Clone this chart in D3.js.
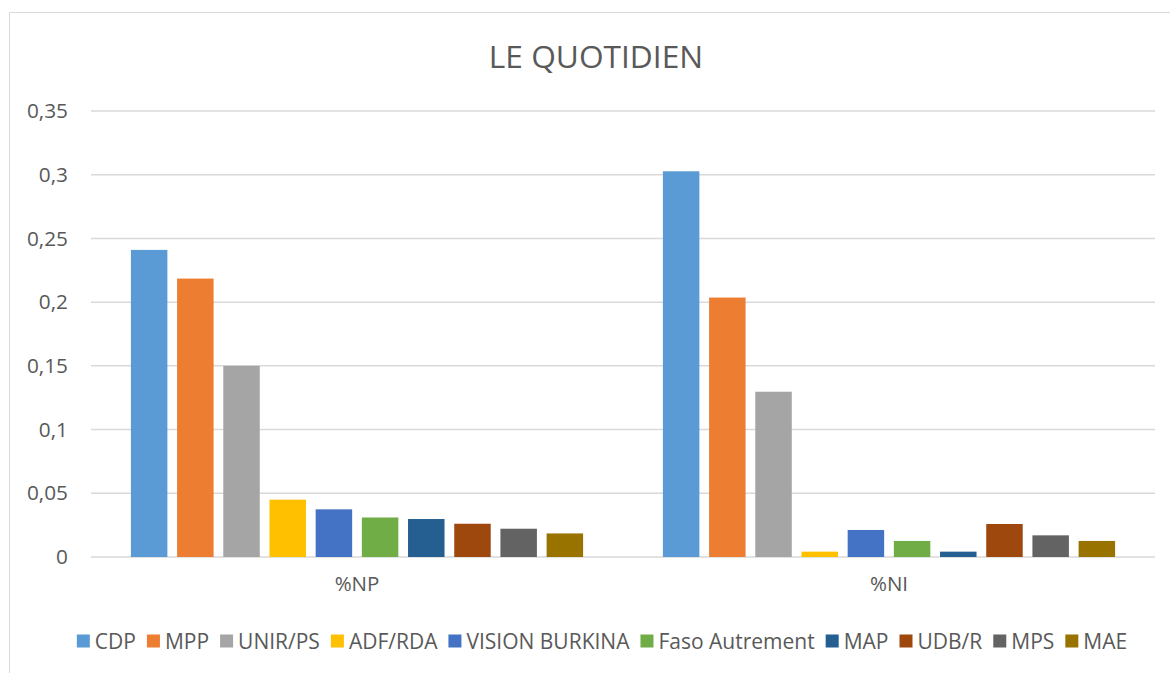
<!DOCTYPE html>
<html>
<head>
<meta charset="utf-8">
<script src="https://cdn.jsdelivr.net/npm/d3@7"></script>
<style>
  html, body { margin: 0; padding: 0; background: #fff; }
  svg { display: block; font-family: "Open Sans", "Noto Sans", sans-serif; }
</style>
</head>
<body>
<svg id="chart"></svg>
<script>
const categories = ['%NP', '%NI'];
const parties = ['CDP', 'MPP', 'UNIR/PS', 'ADF/RDA', 'VISION BURKINA', 'Faso Autrement', 'MAP', 'UDB/R', 'MPS', 'MAE'];
const colors = ['#5B9BD5', '#ED7D31', '#A5A5A5', '#FFC000', '#4472C4', '#70AD47', '#255E91', '#9E480E', '#636363', '#997300'];
const valuesNP = [0.241, 0.2185, 0.150, 0.045, 0.0374, 0.031, 0.0298, 0.0261, 0.0222, 0.0185];
const valuesNI = [0.3027, 0.2036, 0.1297, 0.0042, 0.0212, 0.0126, 0.0042, 0.0259, 0.017, 0.0126];
const yTicks = [0, 0.05, 0.1, 0.15, 0.2, 0.25, 0.3, 0.35];

const width = 1170, height = 673;
const margin = { top: 111, right: 15, bottom: 116, left: 91 };
const innerWidth = width - margin.left - margin.right;
const innerHeight = height - margin.top - margin.bottom;
const ink = '#595959';
const grid = '#d9d9d9';

const svg = d3.select('#chart')
    .attr('width', width)
    .attr('height', height);

// Chart frame (right and bottom edges fall off the picture)
svg.append('path')
    .attr('d', `M${width},12.5 H9.5 V${height}`)
    .attr('fill', 'none')
    .attr('stroke', grid)
    .attr('stroke-width', 1);

svg.append('text')
    .attr('x', 596)
    .attr('y', 68)
    .attr('text-anchor', 'middle')
    .attr('fill', ink)
    .attr('font-size', '31.7px')
    .text('LE QUOTIDIEN');

const g = svg.append('g')
    .attr('transform', `translate(${margin.left},${margin.top})`);

const y = d3.scaleLinear()
    .domain([0, 0.35])
    .range([innerHeight, 0]);

const x0 = d3.scaleBand()
    .domain(categories)
    .range([0, innerWidth])
    .paddingInner(0.15)
    .paddingOuter(0.075);

const x1 = d3.scaleBand()
    .domain(parties)
    .range([0, x0.bandwidth()])
    .paddingInner(0.21)
    .paddingOuter(0);

// Gridlines
g.selectAll('.gridline')
    .data(yTicks)
    .join('line')
    .attr('class', 'gridline')
    .attr('x1', 0).attr('x2', innerWidth)
    .attr('y1', d => y(d)).attr('y2', d => y(d))
    .attr('stroke', grid)
    .attr('stroke-width', 1.5);

// Y axis labels
const yAxis = g.append('g')
    .call(d3.axisLeft(y).tickValues(yTicks).tickSize(0).tickPadding(23)
        .tickFormat(d => String(+d.toFixed(2)).replace('.', ',')));
yAxis.select('.domain').remove();
yAxis.selectAll('text')
    .attr('fill', ink)
    .attr('font-size', '20.8px')
    .attr('font-family', '"Open Sans", "Noto Sans", sans-serif');

// Bars
const seriesByCat = { '%NP': valuesNP, '%NI': valuesNI };
const groups = g.selectAll('.cat')
    .data(categories)
    .join('g')
    .attr('class', 'cat')
    .attr('transform', d => `translate(${x0(d)},0)`);

groups.selectAll('rect')
    .data(c => parties.map((p, i) => ({ party: p, value: seriesByCat[c][i], color: colors[i] })))
    .join('rect')
    .attr('x', d => x1(d.party))
    .attr('y', d => y(d.value))
    .attr('width', x1.bandwidth())
    .attr('height', d => innerHeight - y(d.value))
    .attr('fill', d => d.color);

// X axis labels
const xAxis = g.append('g')
    .attr('transform', `translate(0,${innerHeight})`)
    .call(d3.axisBottom(x0).tickSize(0).tickPadding(19));
xAxis.select('.domain').remove();
xAxis.selectAll('text')
    .attr('fill', ink)
    .attr('font-size', '20.5px')
    .attr('font-family', '"Open Sans", "Noto Sans", sans-serif');

// Legend
const legend = svg.append('g').attr('class', 'legend');
const items = legend.selectAll('g')
    .data(parties)
    .join('g');
items.append('rect')
    .attr('width', 13).attr('height', 13)
    .attr('y', -6.5)
    .attr('fill', (d, i) => colors[i]);
items.append('text')
    .attr('x', 18)
    .attr('dy', '0.36em')
    .attr('fill', ink)
    .attr('font-size', '21px')
    .text(d => d);

let cursor = 0;
items.each(function () {
    const w = d3.select(this).select('text').node().getComputedTextLength();
    d3.select(this).attr('transform', `translate(${cursor},641)`);
    cursor += 18 + w + 11;
});
const total = cursor - 11;
legend.attr('transform', `translate(${602 - total / 2},0)`);
</script>
</body>
</html>
